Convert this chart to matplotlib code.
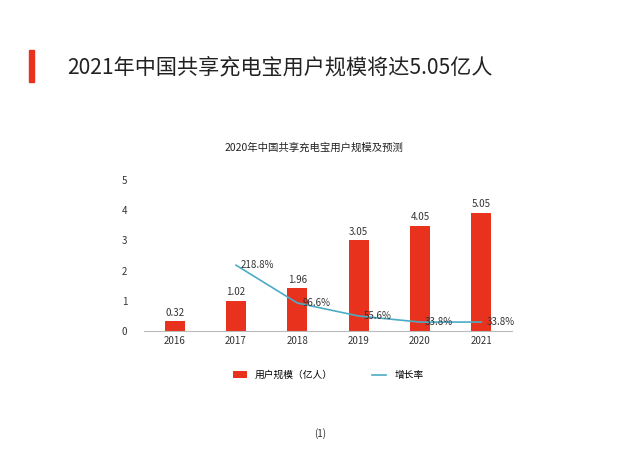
import matplotlib
matplotlib.use("Agg")
import matplotlib.pyplot as plt
import numpy as np

plt.rcParams['font.family'] = ['Noto Sans CJK SC', 'DejaVu Sans']

years = ['2016', '2017', '2018', '2019', '2020', '2021']
bar_heights = [0.33, 1.0, 1.42, 3.0, 3.48, 3.9]
bar_labels = ['0.32', '1.02', '1.96', '3.05', '4.05', '5.05']
growth_years = [1, 2, 3, 4, 5]
growth = [218.8, 96.6, 55.6, 33.8, 33.8]
growth_pos = [2.18, 0.93, 0.5, 0.3, 0.3]

red = '#e8321e'
blue = '#4bacc6'

fig = plt.figure(figsize=(6.4, 4.53), dpi=100)
fig.patch.set_facecolor('white')

fig.patches.append(plt.Rectangle((0.045, 0.818), 0.008, 0.072, transform=fig.transFigure, color=red))
fig.text(0.105, 0.852, '2021年中国共享充电宝用户规模将达5.05亿人', fontsize=15.2, va='center', color='#222222')
fig.text(0.49, 0.675, '2020年中国共享充电宝用户规模及预测', fontsize=7.5, ha='center', va='center', color='#222222')

ax = fig.add_axes([0.225, 0.269, 0.575, 0.334])
x = np.arange(len(years))
b = ax.bar(x, bar_heights, width=0.33, color=red)
for xi, h, lab in zip(x, bar_heights, bar_labels):
    ax.text(xi, h + 0.12, lab, ha='center', va='bottom', fontsize=7, color='#333333')
l, = ax.plot(growth_years, growth_pos, color=blue, lw=1.2)
for xi, yi, g in zip(growth_years, growth_pos, growth):
    ax.text(xi + 0.08, yi, f'{g}%', ha='left', va='center', fontsize=7, color='#333333')

ax.set_xlim(-0.5, 5.5)
ax.set_ylim(0, 5)
ax.set_xticks(x)
ax.set_xticklabels(years, fontsize=7)
ax.set_yticks(range(6))
ax.tick_params(axis='both', length=0, labelsize=7, colors='#333333')
ax.tick_params(axis='y', pad=12)
for s in ['top', 'right', 'left']:
    ax.spines[s].set_visible(False)
ax.spines['bottom'].set_color('#bbbbbb')
ax.legend([b, l], ['用户规模（亿人）', '增长率'], loc='upper center', bbox_to_anchor=(0.5, -0.2),
          ncol=2, frameon=False, fontsize=7, handlelength=1.5, columnspacing=4)

fig.text(0.5, 0.035, '(1)', fontsize=7, ha='center', color='#333333')
fig.savefig('out.png', dpi=100)
